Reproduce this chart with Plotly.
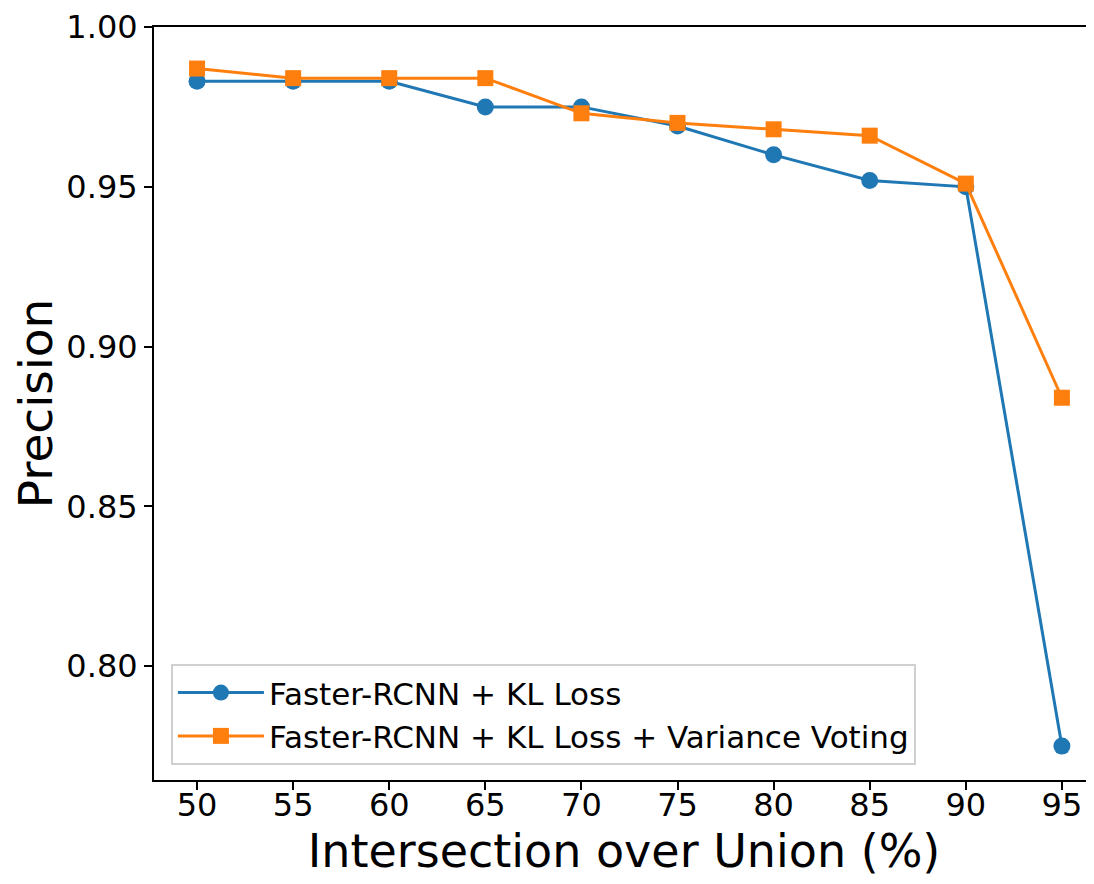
import plotly.graph_objects as go

iou = [50, 55, 60, 65, 70, 75, 80, 85, 90, 95]
kl_loss = [0.983, 0.983, 0.983, 0.975, 0.975, 0.969, 0.960, 0.952, 0.950, 0.775]
kl_vv = [0.987, 0.984, 0.984, 0.984, 0.973, 0.970, 0.968, 0.966, 0.951, 0.884]
y_ticks = [0.80, 0.85, 0.90, 0.95, 1.00]
x_ticks = iou

FONT = "DejaVu Sans"
# page body has an 8px default margin; compensate
W, H = 1086, 876
L, T, B, R = 146, 19, 104, 0

fig = go.Figure()
fig.add_trace(go.Scatter(
    x=iou, y=kl_loss, mode="lines+markers", name="Faster-RCNN + KL Loss",
    line=dict(color="#1f77b4", width=3),
    marker=dict(symbol="circle", size=17, color="#1f77b4"),
))
fig.add_trace(go.Scatter(
    x=iou, y=kl_vv, mode="lines+markers", name="Faster-RCNN + KL Loss + Variance Voting",
    line=dict(color="#ff7f0e", width=3),
    marker=dict(symbol="square", size=16, color="#ff7f0e"),
))

fig.update_layout(
    width=W, height=H,
    margin=dict(l=L, r=R, t=T, b=B),
    plot_bgcolor="white", paper_bgcolor="white",
    font=dict(family=FONT, color="black", size=31),
    legend=dict(
        x=0.018, y=0.02, xanchor="left", yanchor="bottom",
        bgcolor="rgba(255,255,255,0.8)", bordercolor="#d0d0d0", borderwidth=2,
        font=dict(family=FONT, size=31, color="black"),
        itemwidth=86, tracegroupgap=0,
    ),
    xaxis=dict(
        range=[47.76, 96.67], tickmode="array", tickvals=x_ticks,
        ticks="outside", ticklen=8, tickwidth=2, tickcolor="black",
        ticklabelstandoff=-12, automargin=True,
        showline=True, linecolor="black", linewidth=2, mirror=True,
        showgrid=False, zeroline=False,
        tickfont=dict(family=FONT, size=32, color="black"),
        title=dict(text="Intersection over Union (%)", font=dict(family=FONT, size=46, color="black"), standoff=10),
    ),
    yaxis=dict(
        range=[0.7644, 1.0], tickmode="array", tickvals=y_ticks, tickformat=".2f",
        ticks="outside", ticklen=8, tickwidth=2, tickcolor="black",
        automargin=True,
        showline=True, linecolor="black", linewidth=2,
        showgrid=False, zeroline=False,
        tickfont=dict(family=FONT, size=32, color="black"),
        title=dict(text="Precision", font=dict(family=FONT, size=47, color="black"), standoff=16),
    ),
)

fig.write_html("out.html")
